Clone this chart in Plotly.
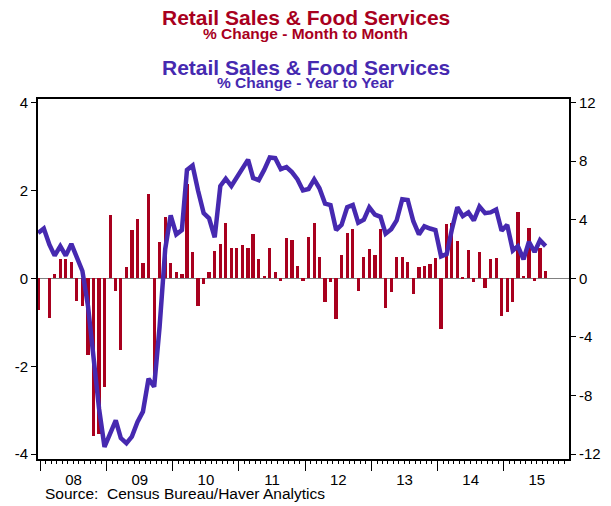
import pandas as pd
import plotly.graph_objects as go

# Months covered (monthly data, Dec 2007 - Aug 2015)
months = [str(p) for p in pd.period_range("2007-12", "2015-08", freq="M")]

# % change month to month (left axis, bars)
mom = [
    -0.72,
    0.00, -0.91, 0.09, 0.43, 0.43, 0.38, -0.51, -0.62, -1.75, -3.59, -3.55, -2.48,
    1.43, -0.29, -1.64, 0.25, 1.09, 1.36, 0.36, 1.92, -2.46, 0.82, 1.40, 0.36,
    0.14, 0.09, 2.15, 0.59, -0.63, -0.13, 0.14, 0.63, 0.77, 1.27, 0.68, 0.68,
    0.75, 0.70, 1.00, 0.43, 0.05, 0.70, 0.14, -0.06, 0.91, 0.88, 0.27, -0.06,
    0.93, 1.25, 0.48, -0.54, -0.08, -0.93, 0.52, 1.04, 1.13, -0.29, 0.48, 0.66,
    0.52, 1.13, -0.67, -0.31, 0.48, 0.48, 0.38, -0.35, 0.25, 0.27, 0.32, 0.47,
    -1.15, 1.24, 1.25, 0.86, 0.02, 0.65, -0.08, 0.59, -0.23, 0.43, 0.47, -0.86,
    -0.76, -0.54, 1.52, 0.05, 1.15, -0.06, 0.68, 0.16,
]

# % change year to year (right axis, line)
yoy = [
    3.1,
    3.4, 2.3, 1.55, 2.2, 1.55, 2.35, 1.5, 0.5, -1.9, -5.3, -8.9, -11.5,
    -10.5, -9.7, -10.9, -11.25, -10.8, -9.8, -9.1, -6.85, -7.4, -3.3, 2.0, 4.3,
    3.0, 3.3, 7.4, 7.7, 6.0, 4.45, 4.1, 2.8, 6.3, 6.8, 6.3, 6.9,
    7.6, 8.1, 6.85, 6.7, 7.4, 8.25, 8.2, 7.45, 7.6, 7.25, 6.75, 6.0,
    6.1, 6.75, 6.15, 5.1, 5.0, 3.3, 3.65, 4.85, 5.0, 3.8, 4.0, 4.85,
    4.35, 4.2, 3.05, 3.35, 3.95, 5.4, 5.35, 3.9, 3.0, 3.55, 3.4, 3.3,
    1.5, 1.65, 3.3, 4.85, 4.25, 4.5, 3.95, 4.9, 4.45, 4.5, 4.7, 3.25,
    3.65, 1.9, 2.2, 1.3, 2.5, 1.8, 2.6, 2.2,
]

left_ticks = [-4, -2, 0, 2, 4]
left_labels = ["-4", "-2", "0", "2", "4"]
right_ticks = [-12, -8, -4, 0, 4, 8, 12]
right_labels = ["-12", "-8", "-4", "0", "4", "8", "12"]

RED = "#A8001E"
BLUE = "#4629B0"
FONT = "Liberation Sans, Arial, sans-serif"

xdates = [(pd.Timestamp(m + "-01") + pd.Timedelta(days=19)).strftime("%Y-%m-%d") for m in months]
bar_width_ms = 18.0 * 86400000

fig = go.Figure()
fig.add_trace(go.Bar(x=xdates, y=mom, marker=dict(color=RED, line=dict(width=0)),
                     width=bar_width_ms, yaxis="y", showlegend=False))
fig.add_trace(go.Scatter(x=xdates, y=yoy, mode="lines", line=dict(color=BLUE, width=4.5),
                         yaxis="y2", showlegend=False))

# the page body has an 8px default margin, so the figure is sized to fill the rest
fig.update_layout(
    width=603, height=498,
    margin=dict(l=30, r=42, t=91, b=47),
    paper_bgcolor="white", plot_bgcolor="white",
    font=dict(family=FONT, size=15, color="black"),
    bargap=0,
    xaxis=dict(
        type="date", range=["2007-12-19", "2015-12-27"], automargin=False,
        showline=True, linewidth=2, linecolor="black", mirror=True,
        showgrid=False, zeroline=False,
        ticks="outside", ticklen=10, tickwidth=1, tickcolor="black",
        tick0="2008-01-01", dtick="M12", tickformat="%y", ticklabelmode="period",
        ticklabelstandoff=-4,
        minor=dict(dtick="M1", ticks="outside", ticklen=3, tickwidth=1, tickcolor="black", showgrid=False),
        tickfont=dict(size=15),
    ),
    yaxis=dict(
        range=[-4.11, 4.08], tickvals=left_ticks, ticktext=left_labels, automargin=False,
        showline=True, linewidth=2, linecolor="black", mirror=True,
        showgrid=False, zeroline=True, zerolinecolor="#808080", zerolinewidth=1,
        ticks="outside", ticklen=5, tickwidth=1, tickcolor="black",
        tickfont=dict(size=15),
    ),
    yaxis2=dict(
        range=[-12.33, 12.24], tickvals=right_ticks, ticktext=right_labels, automargin=False,
        overlaying="y", side="right",
        showline=True, linewidth=2, linecolor="black",
        showgrid=False, zeroline=False,
        ticks="outside", ticklen=5, tickwidth=1, tickcolor="black",
        tickfont=dict(size=15),
    ),
    annotations=[
        dict(text="<b>Retail Sales & Food Services</b>", x=0.504, y=1.2264, xref="paper", yref="paper",
             xanchor="center", yanchor="middle", showarrow=False, font=dict(size=21, color=RED)),
        dict(text="<b>% Change - Month to Month</b>", x=0.504, y=1.1833, xref="paper", yref="paper",
             xanchor="center", yanchor="middle", showarrow=False, font=dict(size=15.5, color=RED)),
        dict(text="<b>Retail Sales & Food Services</b>", x=0.504, y=1.0875, xref="paper", yref="paper",
             xanchor="center", yanchor="middle", showarrow=False, font=dict(size=21, color=BLUE)),
        dict(text="<b>% Change - Year to Year</b>", x=0.504, y=1.0472, xref="paper", yref="paper",
             xanchor="center", yanchor="middle", showarrow=False, font=dict(size=15.5, color=BLUE)),
        dict(text="Source:  Census Bureau/Haver Analytics", x=0.0094, y=-0.0972, xref="paper", yref="paper",
             xanchor="left", yanchor="middle", showarrow=False, font=dict(size=15.5, color="black")),
    ],
)

fig.write_html("out.html")
